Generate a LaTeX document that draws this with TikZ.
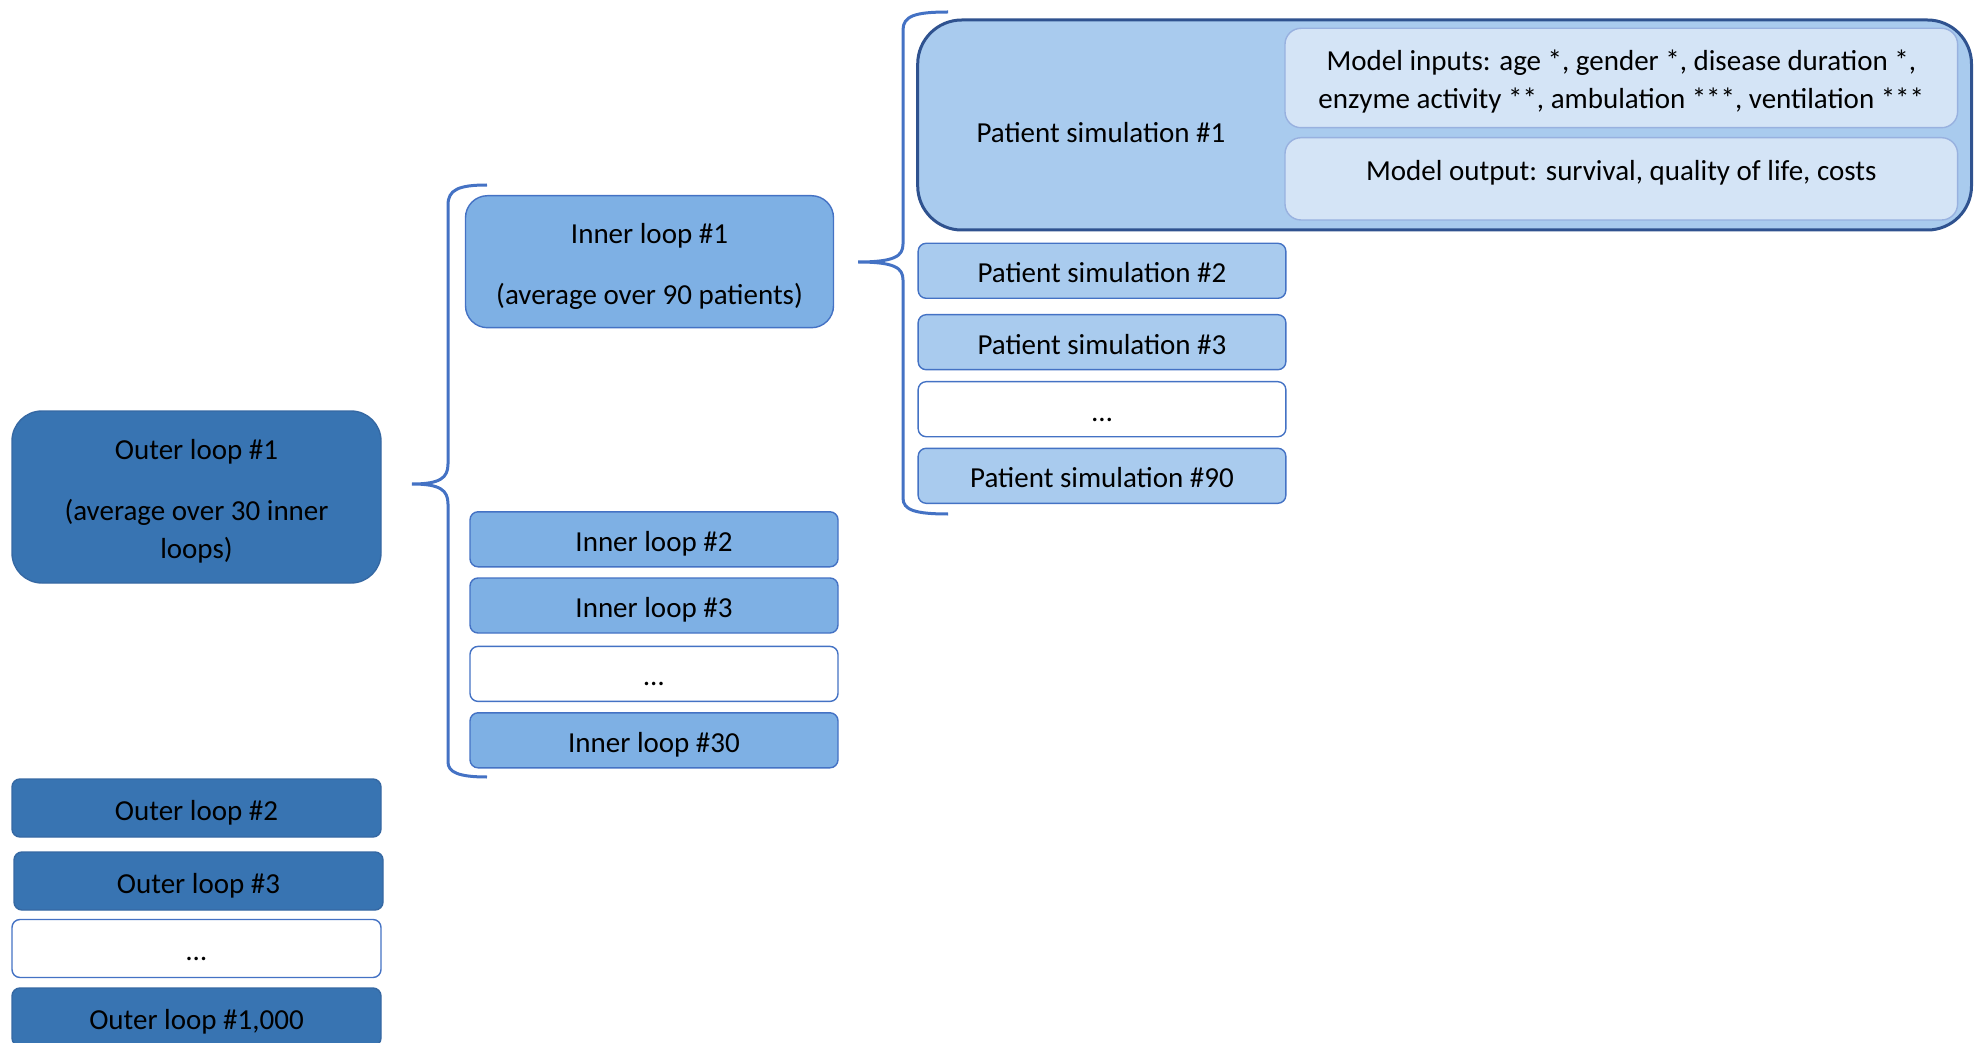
\documentclass[tikz,border=0pt]{standalone}
\usepackage{fontspec}
\setmainfont{Carlito}
\usepackage{tikz}
\definecolor{outerfill}{HTML}{3874B2}
\definecolor{outerline}{HTML}{3568A3}
\definecolor{innerfill}{HTML}{7EB0E4}
\definecolor{patfill}{HTML}{A9CBEE}
\definecolor{modfill}{HTML}{D4E4F6}
\definecolor{edge}{HTML}{4472C4}
\definecolor{darkedge}{HTML}{2F528F}
\newcommand{\boxstrut}{\rule[-3pt]{0pt}{18pt}}
\tikzset{
  box/.style={rounded corners=4pt, line width=0.7pt, draw=edge, align=center, inner sep=0pt,
    font=\fontsize{14.5}{18.75}\selectfont, execute at begin node=\boxstrut},
  outerbox/.style={box, fill=outerfill, draw=outerline, minimum width=184.5pt, minimum height=29pt},
  innerbox/.style={box, fill=innerfill, minimum width=184pt, minimum height=27.5pt},
  patbox/.style={box, fill=patfill, minimum width=183.85pt, minimum height=27.5pt},
  dotbox/.style={fill=white, draw=edge},
  modbox/.style={box, fill=modfill, draw=edge!55, minimum width=336.3pt, rounded corners=8pt},
  brace/.style={draw=edge, line width=1.5pt},
  lab/.style={font=\fontsize{14.5}{18.75}\selectfont}
}

\begin{document}
\begin{tikzpicture}[x=0.5pt, y=-0.5pt]
  \useasboundingbox (0,0) rectangle (1977,1043);
  \clip (0,0) rectangle (1977,1043);

  % outer loops
  \node[outerbox, minimum height=86pt, rounded corners=15pt] (out1) at (196.5,497)
    {\boxstrut Outer loop \#1\\[11.75pt](average over 30 inner\\loops)};
  \node[outerbox] (out2) at (196.5,808) {Outer loop \#2};
  \node[outerbox] (out3) at (198.5,881) {Outer loop \#3};
  \node[outerbox, dotbox] (outdots) at (196.5,948.5) {\dots};
  \node[outerbox] (out1000) at (196.5,1017) {Outer loop \#1,000};

  % brace: outer loop -> inner loops
  \draw[brace] (487,185) .. controls (458,185) and (448,190) .. (448,205)
    -- (448,464) .. controls (448,478) and (440,484) .. (412,484)
    .. controls (440,484) and (448,490) .. (448,504)
    -- (448,762) .. controls (448,772) and (458,777) .. (487,777);

  % inner loops
  \node[innerbox, minimum height=66pt, rounded corners=11pt] (in1) at (649.5,261.7)
    {\boxstrut Inner loop \#1\\[11.6pt](average over 90 patients)};
  \node[innerbox] (in2) at (654,539.3) {Inner loop \#2};
  \node[innerbox] (in3) at (654,605.5) {Inner loop \#3};
  \node[innerbox, dotbox] (indots) at (654,673.9) {\dots};
  \node[innerbox] (in30) at (654,740.3) {Inner loop \#30};

  % brace: inner loop -> patients
  \draw[brace] (948,12) .. controls (915,12) and (903,16) .. (903,30)
    -- (903,244) .. controls (903,256) and (895,262) .. (858,262)
    .. controls (895,262) and (903,268) .. (903,280)
    -- (903,498) .. controls (903,510) and (915,514) .. (948,514);

  % patient simulation #1 with model inputs and output
  \node[box, fill=patfill, draw=darkedge, line width=1.5pt, rounded corners=22pt,
    minimum width=526.9pt, minimum height=105pt] (pat1) at (1444.6,125) {};
  \node[lab] (pat1txt) at (1101,133) {Patient simulation \#1};
  \node[modbox, minimum height=49.7pt] (inputs) at (1621.3,78)
    {\boxstrut Model inputs: age *, gender *, disease duration *,\\[0.25pt]enzyme activity **, ambulation ***, ventilation ***};
  \node[modbox, minimum height=41.15pt] (outputs) at (1621.3,178.85) {};
  \node[lab] (outtxt) at (1621.3,172.5) {Model output: survival, quality of life, costs};

  % other patients
  \node[patbox] (pat2) at (1102,270.8) {Patient simulation \#2};
  \node[patbox] (pat3) at (1102,342.2) {Patient simulation \#3};
  \node[patbox, dotbox] (patdots) at (1102,409.2) {\dots};
  \node[patbox] (pat90) at (1102,475.8) {Patient simulation \#90};
\end{tikzpicture}
\end{document}
